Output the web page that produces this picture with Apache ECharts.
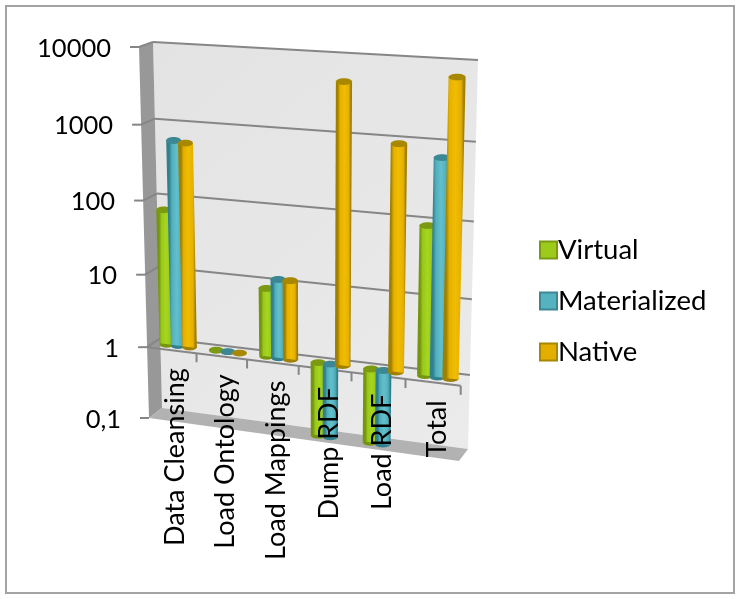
<!DOCTYPE html>
<html>
<head>
<meta charset="utf-8">
<style>html,body{margin:0;padding:0;background:#fff}#chart{width:740px;height:599px}</style>
<script src="https://cdn.jsdelivr.net/npm/echarts@6/dist/echarts.min.js"></script>
</head>
<body>
<div id="chart"></div>
<script>
const categories = ['Data Cleansing', 'Load Ontology', 'Load Mappings', 'Dump RDF', 'Load RDF', 'Total'];
const virtualValues = [70, 1, 8.4, 0.1, 0.1, 90];
const materializedValues = [600, 1, 11.5, 0.1, 0.1, 665];
const nativeValues = [570, 1, 11.5, 4800, 900, 6600];
const valueTicks = [0.1, 1, 10, 100, 1000, 10000];
const valueTickLabels = ['0,1', '1', '10', '100', '1000', '10000'];

const FONT = 'Lato, sans-serif';
const GRID_COLOR = '#868686';

// Corners of the box faces, clockwise from top-left of the plot.
const frontFace = [[139, 47], [468, 66], [459, 461], [149, 418]];
const backFace = [[153, 42], [478, 60], [468, 449], [162, 408]];

function squareToQuad(q) {
  const [[x0, y0], [x1, y1], [x2, y2], [x3, y3]] = q;
  const dx1 = x1 - x2, dx2 = x3 - x2, sx = x0 - x1 + x2 - x3;
  const dy1 = y1 - y2, dy2 = y3 - y2, sy = y0 - y1 + y2 - y3;
  const den = dx1 * dy2 - dx2 * dy1;
  const g = (sx * dy2 - dx2 * sy) / den;
  const h = (dx1 * sy - sx * dy1) / den;
  const a = x1 - x0 + g * x1, b = x3 - x0 + h * x3;
  const d = y1 - y0 + g * y1, e = y3 - y0 + h * y3;
  return (u, v) => {
    const w = g * u + h * v + 1;
    return [(a * u + b * v + x0) / w, (d * u + e * v + y0) / w];
  };
}
const toFront = squareToQuad(frontFace);
const toBack = squareToQuad(backFace);

// Flat plot coordinates -> box coordinates. depth 0 is the front, 1 the back.
function project(u, v, depth) {
  const f = toFront(u, v), b = toBack(u, v);
  return [f[0] + (b[0] - f[0]) * depth, f[1] + (b[1] - f[1]) * depth];
}
function norm(params, pt) {
  const r = params.coordSys;
  return [(pt[0] - r.x) / r.width, (pt[1] - r.y) / r.height];
}

function renderWalls(params, api) {
  const children = [];
  const poly = (pts, fill) => children.push({ type: 'polygon', shape: { points: pts }, style: { fill } });
  const line = (a, b, w) => children.push({
    type: 'line', shape: { x1: a[0], y1: a[1], x2: b[0], y2: b[1] },
    style: { stroke: GRID_COLOR, lineWidth: w || 2 }
  });
  poly([project(0, 0, 1), project(1, 0, 1), project(1, 1, 1), project(0, 1, 1)], {
    type: 'linear', x: 0, y: 0, x2: 1, y2: 1,
    colorStops: [{ offset: 0, color: '#e3e3e3' }, { offset: 1, color: '#ebebeb' }]
  });
  poly([project(0, 0, 0), project(0, 0, 1), project(0, 1, 1), project(0, 1, 0)], '#989898');
  poly([project(0, 1, 0), project(1, 1, 0), project(1, 1, 1), project(0, 1, 1)], '#b2b2b2');

  valueTicks.forEach((t) => {
    const v = norm(params, api.coord([0, t]))[1];
    const f = project(0, v, 0);
    if (t !== 0.1) line(project(0, v, 1), project(1, v, 1));
    if (t !== 0.1) line(f, project(0, v, 1));
    line([f[0] - 9, f[1]], f);
  });

  // Category axis crosses at 1, on the front plane.
  const v1 = norm(params, api.coord([0, 1]))[1];
  line(project(0, v1, 0), project(1, v1, 0));
  categories.forEach((c, i) => {
    const band = api.size([1, 0])[0];
    const u = norm(params, [api.coord([i, 1])[0] + band / 2, 0])[0];
    const p = project(u, v1, 0);
    line(p, [p[0], p[1] + 9]);
  });
  return { type: 'group', children };
}

function cylinder(palette, seriesIndex) {
  return function (params, api) {
    const i = api.value(0), val = api.value(1);
    const band = api.size([1, 0])[0];
    const cx = api.coord([i, 1])[0] + (seriesIndex - 1) * band * 0.232;
    const halfW = band * 0.147;
    const uL = norm(params, [cx - halfW, 0])[0], uR = norm(params, [cx + halfW, 0])[0];
    const vBase = norm(params, api.coord([i, 1]))[1];
    const vEnd = norm(params, api.coord([i, val]))[1];
    const depth = 0.5;
    const vUp = Math.min(vBase, vEnd), vDown = Math.max(vBase, vEnd);
    const ul = project(uL, vUp, depth), ur = project(uR, vUp, depth);
    const dl = project(uL, vDown, depth), dr = project(uR, vDown, depth);
    const ry = 3.4;
    const body = {
      type: 'linear', x: 0, y: 0, x2: 1, y2: 0,
      colorStops: [
        { offset: 0, color: palette.dark },
        { offset: 0.16, color: palette.dark },
        { offset: 0.3, color: palette.mid },
        { offset: 0.55, color: palette.light },
        { offset: 0.8, color: palette.mid },
        { offset: 0.92, color: palette.dark },
        { offset: 1, color: palette.dark }
      ]
    };
    const ellipse = (a, b, fill) => ({
      type: 'ellipse',
      shape: { cx: (a[0] + b[0]) / 2, cy: (a[1] + b[1]) / 2, rx: Math.abs(b[0] - a[0]) / 2, ry },
      style: { fill }
    });
    const children = [];
    if (vDown - vUp > 1e-4) {
      children.push(ellipse(dl, dr, palette.dark));
      children.push({ type: 'polygon', shape: { points: [ul, ur, dr, dl] }, style: { fill: body } });
    }
    children.push(ellipse(ul, ur, palette.cap));
    return { type: 'group', children };
  };
}

function renderLabels(params, api) {
  const children = [];
  const v1 = norm(params, api.coord([0, 1]))[1];
  categories.forEach((c, i) => {
    const u = norm(params, [api.coord([i, 1])[0], 0])[0];
    const p = project(u, v1, 0);
    children.push({
      type: 'text', x: p[0] + 4, y: p[1] + 18, rotation: Math.PI / 2,
      style: { text: c, font: '27px ' + FONT, fill: '#000', align: 'right', verticalAlign: 'middle' }
    });
  });
  valueTicks.forEach((t, i) => {
    const v = norm(params, api.coord([0, t]))[1];
    const f = project(0, v, 0);
    children.push({
      type: 'text', x: f[0] - 28, y: f[1] + 1.5,
      style: { text: valueTickLabels[i], font: '25.5px ' + FONT, fill: '#000', align: 'right', verticalAlign: 'middle' }
    });
  });
  return { type: 'group', children };
}

const palettes = {
  Virtual: { light: '#a6d61f', mid: '#98c81a', dark: '#76950f', cap: '#7b9a12', swatch: '#9ccb1c', edge: '#7b9a12' },
  Materialized: { light: '#62c0cc', mid: '#52aebb', dark: '#31808e', cap: '#3c8794', swatch: '#55b3bf', edge: '#3c8794' },
  Native: { light: '#f0bd00', mid: '#e6b000', dark: '#a08000', cap: '#a88800', swatch: '#e4ae00', edge: '#a88800' }
};

function barSeries(name, values, idx) {
  return {
    name, type: 'custom', z: 3 + idx, clip: false,
    coordinateSystem: 'cartesian2d',
    encode: { x: 0, y: 1 },
    data: values.map((v, i) => [i, v]),
    renderItem: cylinder(palettes[name], idx),
    itemStyle: { color: palettes[name].swatch, borderColor: palettes[name].edge, borderWidth: 2 }
  };
}

const chart = echarts.init(document.getElementById('chart'), null, { renderer: 'canvas' });
chart.setOption({
  animation: false,
  backgroundColor: '#fff',
  grid: { left: 0, right: 0, top: 0, bottom: 0 },
  xAxis: { type: 'category', data: categories, show: false },
  yAxis: { type: 'log', logBase: 10, min: 0.1, max: 10000, show: false },
  legend: {
    orient: 'vertical', left: 534, top: 231,
    itemWidth: 17, itemHeight: 17, itemGap: 23,
    icon: 'rect',
    data: ['Virtual', 'Materialized', 'Native'],
    textStyle: { fontFamily: FONT, fontSize: 27.5, color: '#000', padding: [0, 0, 0, -4] }
  },
  graphic: [{
    type: 'rect', silent: true, z: -1,
    shape: { x: 6, y: 6, width: 728, height: 587 },
    style: { fill: 'none', stroke: '#a3a3a3', lineWidth: 2 }
  }],
  series: [
    { type: 'custom', z: 1, clip: false, coordinateSystem: 'cartesian2d', encode: { x: 0, y: 1 }, data: [[0, 1]], renderItem: renderWalls, silent: true },
    barSeries('Virtual', virtualValues, 0),
    barSeries('Materialized', materializedValues, 1),
    barSeries('Native', nativeValues, 2),
    { type: 'custom', z: 10, clip: false, coordinateSystem: 'cartesian2d', encode: { x: 0, y: 1 }, data: [[0, 1]], renderItem: renderLabels, silent: true }
  ]
});
</script>
</body>
</html>
